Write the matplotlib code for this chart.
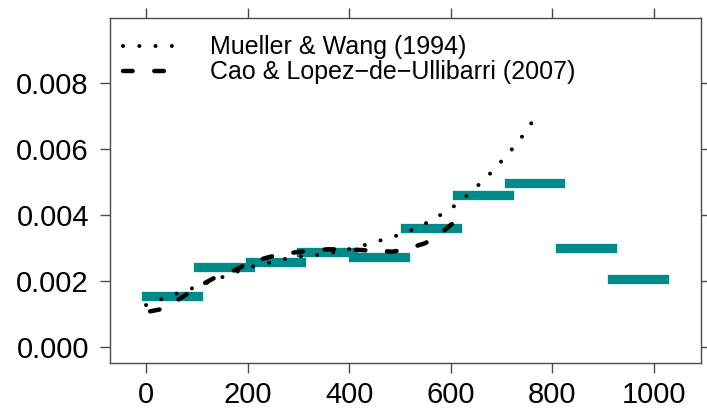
import matplotlib
matplotlib.use("Agg")
import matplotlib.pyplot as plt

# binned rate estimates (step segments)
bin_edges = [0, 102, 204, 306, 408, 510, 612, 714, 816, 918, 1020]
bin_rate = [0.00154, 0.00242, 0.00259, 0.00289, 0.00274,
            0.00361, 0.00461, 0.00498, 0.00300, 0.00207]

# Mueller & Wang (1994) estimate
mw_x = [0, 30, 61, 91, 121, 151, 181, 212, 244, 275, 307, 338, 370, 402,
        433, 464, 495, 524, 554, 582, 609, 634, 657, 680, 702, 723, 743, 761]
mw_y = [0.00127, 0.00145, 0.00162, 0.00178, 0.00195, 0.00212, 0.00229,
        0.00245, 0.00256, 0.00267, 0.00275, 0.00279, 0.00287, 0.00297,
        0.00310, 0.00324, 0.00338, 0.00355, 0.00377, 0.00402, 0.00429,
        0.00461, 0.00494, 0.00529, 0.00566, 0.00603, 0.00642, 0.00683]

# Cao & Lopez-de-Ullibarri (2007) estimate
cl_x = [8, 31, 62, 88, 117, 139, 175, 198, 234, 259, 295, 321, 358, 385,
        423, 449, 487, 513, 549, 572, 602, 613]
cl_y = [0.00108, 0.00115, 0.00142, 0.00168, 0.00195, 0.00213, 0.00233,
        0.00251, 0.00269, 0.00279, 0.00287, 0.00292, 0.00296, 0.00296,
        0.00294, 0.00291, 0.00289, 0.00297, 0.00314, 0.00334, 0.00372,
        0.00389]

xticks = [0, 200, 400, 600, 800, 1000]
yticks = [0.000, 0.002, 0.004, 0.006, 0.008]

plt.rcParams['font.family'] = ['Liberation Sans', 'DejaVu Sans']
axcol = '#4a4a4a'

fig = plt.figure(figsize=(7.07, 4.09), dpi=100)
ax = fig.add_axes([110 / 707, (409 - 362.7) / 409, (700.7 - 110) / 707, (362.7 - 17.7) / 409])

for i in range(len(bin_rate)):
    ax.plot([bin_edges[i], bin_edges[i + 1]], [bin_rate[i], bin_rate[i]],
            color='#008b8b', lw=6.7, solid_capstyle='projecting', zorder=2)

l1, = ax.plot(mw_x, mw_y, color='black', lw=2.9, linestyle=(0, (0.01, 4.03)),
              dash_capstyle='round', zorder=3)
l2, = ax.plot(cl_x, cl_y, color='black', lw=3.2, linestyle=(0, (2.16, 4.88)),
              dash_capstyle='round', zorder=3)

ax.legend([l1, l2], ['Mueller & Wang (1994)', 'Cao & Lopez\u2212de\u2212Ullibarri (2007)'],
          loc='upper left', bbox_to_anchor=(0.022, 0.949), frameon=False,
          fontsize=18, handlelength=2.16, handletextpad=1.32, labelspacing=0.04,
          borderpad=0, borderaxespad=0)

ax.set_xlim(-71, 1092.6)
ax.set_ylim(-0.000476, 0.009979)
ax.set_xticks(xticks)
ax.set_yticks(yticks)
ax.set_xticklabels([str(v) for v in xticks])
ax.set_yticklabels(['%.3f' % v for v in yticks])
ax.tick_params(axis='both', direction='out', length=7.2, width=1, color=axcol,
               labelsize=21, top=True, right=True, labeltop=False, labelright=False)
ax.tick_params(axis='x', pad=6)
ax.tick_params(axis='y', pad=8)
for s in ax.spines.values():
    s.set_color(axcol)
    s.set_linewidth(1)

fig.savefig('out.png', dpi=100)
